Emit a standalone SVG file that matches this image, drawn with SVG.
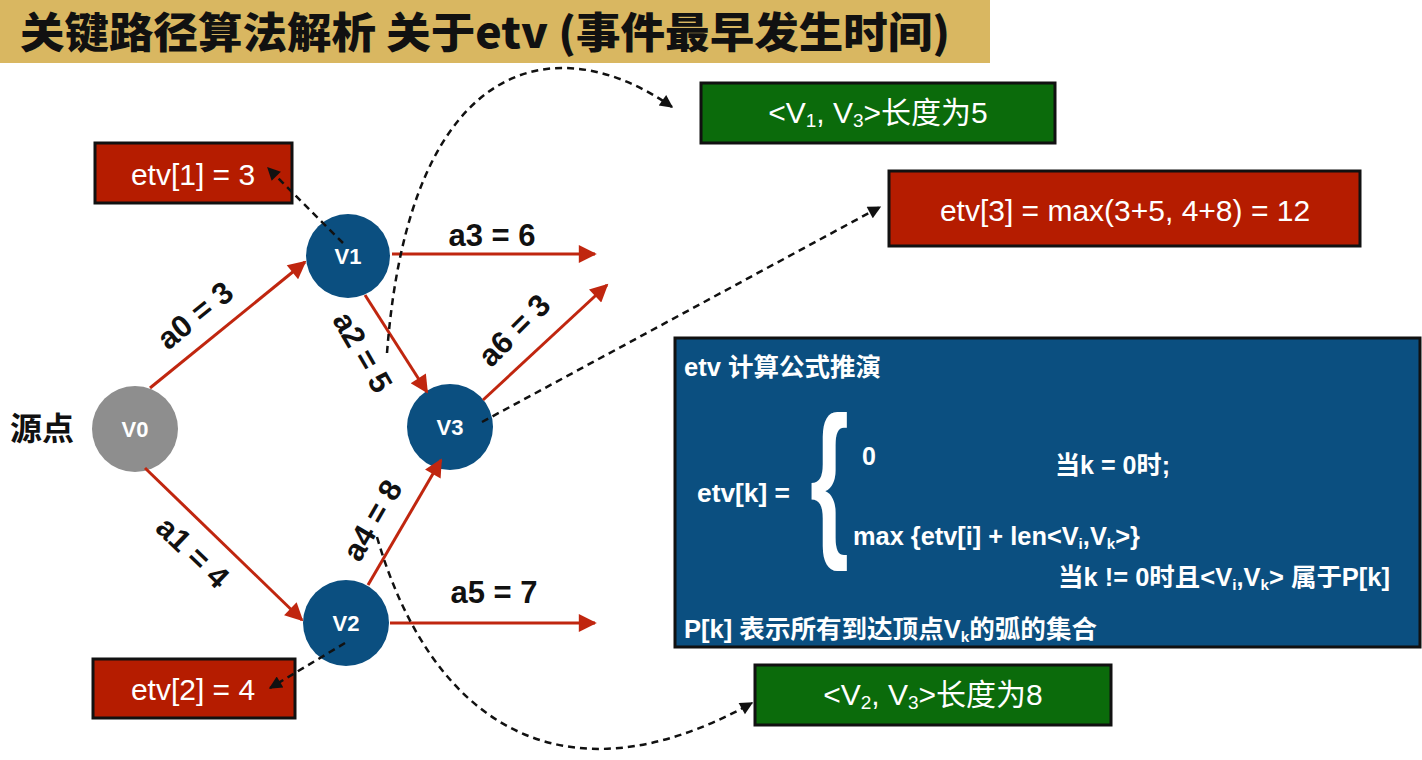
<svg xmlns="http://www.w3.org/2000/svg" width="1422" height="760" viewBox="0 0 1422 760">
<defs>
<style>
.lbl{font-family:"Liberation Sans",Arial,sans-serif;font-weight:bold;font-size:31px;fill:#111;text-anchor:middle}
.nd{font-family:"Liberation Sans",Arial,sans-serif;font-weight:bold;font-size:22px;fill:#fff;text-anchor:middle}
.bx{font-family:"Liberation Sans","Noto Sans CJK SC",sans-serif;font-size:30px;fill:#fff;text-anchor:middle}
.pt{font-family:"Liberation Sans","Noto Sans CJK SC",sans-serif;font-weight:bold;font-size:25px;fill:#fff}
.edge{stroke:#c0260f;stroke-width:3;fill:none;marker-end:url(#ar)}
.dash{stroke:#111;stroke-width:2.5;stroke-dasharray:7 5;fill:none;marker-end:url(#ab)}
.red{fill:#b51c00;stroke:#111;stroke-width:3}
.grn{fill:#0b6b0b;stroke:#111;stroke-width:3}
.blue{fill:#0b4f80}
</style>
<marker id="ar" viewBox="0 0 10 10" refX="9" refY="5" markerWidth="22" markerHeight="18" markerUnits="userSpaceOnUse" orient="auto"><path d="M0,0 L10,5 L0,10 z" fill="#c0260f"/></marker>
<marker id="ab" viewBox="0 0 10 10" refX="9" refY="5" markerWidth="15" markerHeight="13" markerUnits="userSpaceOnUse" orient="auto"><path d="M0,0 L10,5 L0,10 z" fill="#111"/></marker>
</defs>
<rect x="0" y="0" width="1422" height="760" fill="#fff"/>
<g id="title">
<rect x="0" y="0" width="990" height="63" fill="#d9b761"/>
<text x="20" y="48" font-family="'Noto Sans CJK SC',sans-serif" font-weight="900" font-size="42" fill="#111" textLength="930" lengthAdjust="spacingAndGlyphs">关键路径算法解析 关于etv (事件最早发生时间)</text>
</g>
<g id="source-label">
<text x="10" y="440" font-family="'Noto Sans CJK SC',sans-serif" font-weight="bold" font-size="32" fill="#111">源点</text>
</g>
<g id="V0"><circle cx="135" cy="429" r="43" fill="#8e8e8e"/><text class="nd" x="135" y="437">V0</text></g>
<g id="V1"><circle cx="348" cy="256" r="42" class="blue"/><text class="nd" x="348" y="264">V1</text></g>
<g id="V3"><circle cx="450" cy="427" r="43" class="blue"/><text class="nd" x="450" y="435">V3</text></g>
<g id="V2"><circle cx="346" cy="623" r="43" class="blue"/><text class="nd" x="346" y="631">V2</text></g>
<g id="etv1"><rect class="red" x="95" y="143" width="197" height="60"/><text class="bx" x="193" y="185">etv[1] = 3</text></g>
<g id="etv2"><rect class="red" x="93" y="659" width="202" height="59"/><text class="bx" x="193" y="700">etv[2] = 4</text></g>
<g id="etv3"><rect class="red" x="889" y="171" width="471" height="75"/><text class="bx" x="1125" y="221">etv[3] = max(3+5, 4+8) = 12</text></g>
<g id="len13"><rect class="grn" x="701" y="83" width="354" height="60"/><text class="bx" x="878" y="123">&lt;V<tspan font-size="19" dy="4">1</tspan><tspan dy="-4">, V</tspan><tspan font-size="19" dy="4">3</tspan><tspan dy="-4">&gt;长度为5</tspan></text></g>
<g id="len23"><rect class="grn" x="755" y="665" width="356" height="60"/><text class="bx" x="933" y="705">&lt;V<tspan font-size="19" dy="4">2</tspan><tspan dy="-4">, V</tspan><tspan font-size="19" dy="4">3</tspan><tspan dy="-4">&gt;长度为8</tspan></text></g>
<g id="formula">
<rect x="675" y="338" width="745" height="309" fill="#0b4f80" stroke="#111" stroke-width="3"/>
<text class="pt" x="684" y="376" textLength="197" lengthAdjust="spacingAndGlyphs">etv 计算公式推演</text>
<text class="pt" x="697" y="502" textLength="93" lengthAdjust="spacingAndGlyphs">etv[k] =</text>
<text transform="translate(810,536) scale(1,1.7)" font-family="'Liberation Sans',sans-serif" font-weight="bold" font-size="100" fill="#fff">{</text>
<text class="pt" x="862" y="465">0</text>
<text class="pt" x="1055" y="474" textLength="115" lengthAdjust="spacingAndGlyphs">当k = 0时;</text>
<text class="pt" x="853" y="545" textLength="287" lengthAdjust="spacingAndGlyphs">max {etv[i] + len&lt;V<tspan font-size="15" dy="4">i</tspan><tspan dy="-4">,V</tspan><tspan font-size="15" dy="4">k</tspan><tspan dy="-4">&gt;}</tspan></text>
<text class="pt" x="1058" y="586" textLength="332" lengthAdjust="spacingAndGlyphs">当k != 0时且&lt;V<tspan font-size="15" dy="4">i</tspan><tspan dy="-4">,V</tspan><tspan font-size="15" dy="4">k</tspan><tspan dy="-4">&gt; 属于P[k]</tspan></text>
<text class="pt" x="684" y="638" textLength="413" lengthAdjust="spacingAndGlyphs">P[k] 表示所有到达顶点V<tspan font-size="15" dy="4">k</tspan><tspan dy="-4">的弧的集合</tspan></text>
</g>
<g id="edge-labels">
<text class="lbl" transform="translate(195,315) rotate(-39)" y="11">a0 = 3</text>
<text class="lbl" transform="translate(193,552) rotate(44)" y="11">a1 = 4</text>
<text class="lbl" transform="translate(363,352) rotate(60)" y="11">a2 = 5</text>
<text class="lbl" x="492" y="246">a3 = 6</text>
<text class="lbl" transform="translate(514,330) rotate(-45)" y="11">a6 = 3</text>
<text class="lbl" transform="translate(372,520) rotate(-60)" y="11">a4 = 8</text>
<text class="lbl" x="494" y="603">a5 = 7</text>
</g>
<g id="connectors">
<line class="edge" x1="150" y1="388" x2="305" y2="262"/>
<line class="edge" x1="145" y1="468" x2="302" y2="620"/>
<line class="edge" x1="365" y1="295" x2="427" y2="392"/>
<line class="edge" x1="392" y1="254" x2="595" y2="254"/>
<line class="edge" x1="483" y1="400" x2="607" y2="285"/>
<line class="edge" x1="368" y1="585" x2="441" y2="460"/>
<line class="edge" x1="390" y1="623" x2="595" y2="623"/>
<line class="dash" x1="343" y1="243" x2="268" y2="168"/>
<line class="dash" x1="345" y1="643" x2="270" y2="688"/>
<line class="dash" x1="482" y1="422" x2="880" y2="207"/>
<path class="dash" d="M387,353 C410,50 560,28 672,107"/>
<path class="dash" d="M377,537 C430,720 560,810 752,703"/>
</g>
</svg>
